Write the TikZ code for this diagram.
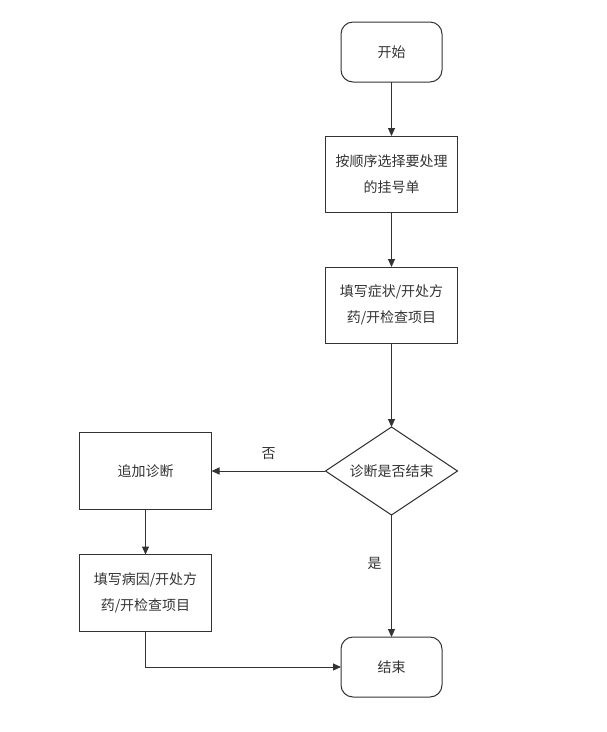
\documentclass[tikz,border=0pt]{standalone}
\usepackage{fontspec}
\setmainfont{Noto Sans CJK SC}
\usetikzlibrary{arrows.meta, shapes.geometric, positioning}
\definecolor{linegray}{HTML}{333333}

\begin{document}
\begin{tikzpicture}[
				font=\fontsize{14pt}{26pt}\selectfont,
				box/.style = {draw=linegray, line width=1pt, minimum width=132pt, minimum height=76pt, inner sep=0pt, outer sep=0pt, align=center, text=linegray},
				term/.style = {box, rounded corners=12pt, minimum width=101pt, minimum height=60pt},
				decide/.style = {box, diamond, minimum width=132pt, minimum height=88pt},
				line/.style = {-{Triangle[length=8pt,width=7pt]}, draw=linegray, line width=1pt}
				]
				
				\useasboundingbox (0pt,0pt) rectangle (607pt,-732pt);
				
				\node[term] (start) at (391.5pt,-52pt) {开始};
				\node[box, below=54pt of start] (select) {按顺序选择要处理\\的挂号单};
				\node[box, below=55pt of select] (fill) {填写症状/开处方\\药/开检查项目};
				\node[decide, below=84pt of fill] (check) {\makebox[0pt]{诊断是否结束}};
				\node[term, below=122pt of check] (stop) {结束};
				\node[box, left=114pt of check, minimum height=77pt] (add) {追加诊断};
				\node[box, below=45pt of add, minimum height=77pt] (cause) {填写病因/开处方\\药/开检查项目};
				
				\draw[line] (start) -- (select);
				\draw[line] (select) -- (fill);
				\draw[line] (fill) -- (check);
				\draw[line] (check) -- (add) node[midway,above=8pt,text=linegray] {否};
				\draw[line] (check) -- (stop) node[pos=0.4,left=6pt,text=linegray] {是};
				\draw[line] (add) -- (cause);
				\draw[line] (cause.south) |- (stop.west);
			\end{tikzpicture}
\end{document}
